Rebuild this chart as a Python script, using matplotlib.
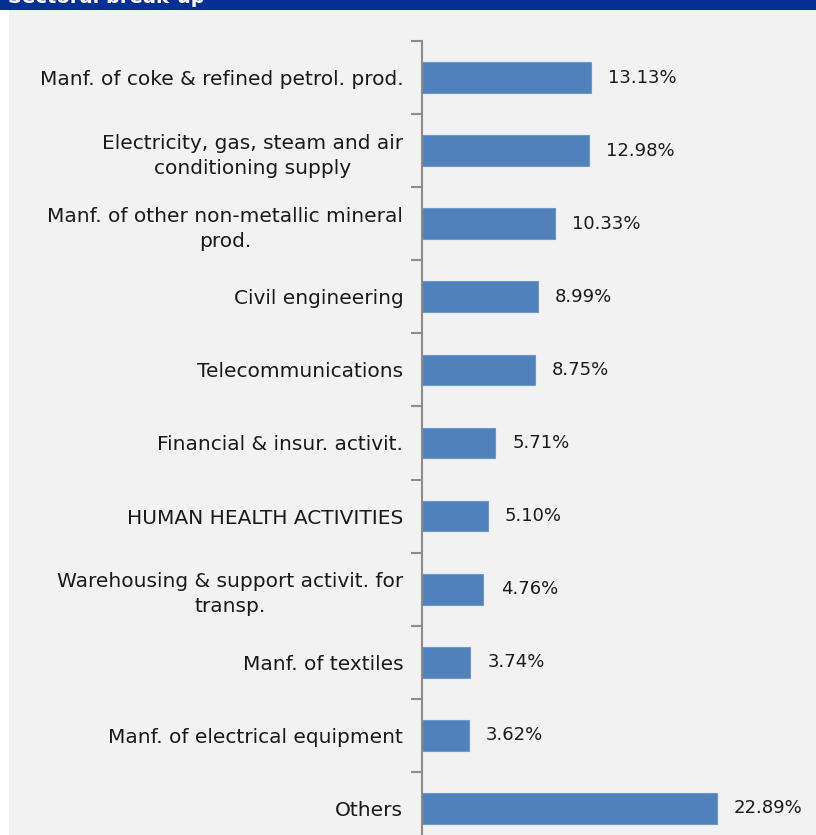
import matplotlib
matplotlib.use("Agg")
import matplotlib.pyplot as plt
from matplotlib.patches import Rectangle

categories = [
    "Manf. of coke & refined petrol. prod.",
    "Electricity, gas, steam and air\nconditioning supply",
    "Manf. of other non-metallic mineral\nprod.",
    "Civil engineering",
    "Telecommunications",
    "Financial & insur. activit.",
    "HUMAN HEALTH ACTIVITIES",
    "Warehousing & support activit. for\ntransp.",
    "Manf. of textiles",
    "Manf. of electrical equipment",
    "Others",
]
shares = [13.13, 12.98, 10.33, 8.99, 8.75, 5.71, 5.10, 4.76, 3.74, 3.62, 22.89]
labels = ["%.2f%%" % v for v in shares]

W, H = 816, 835
fig = plt.figure(figsize=(W / 100, H / 100), dpi=100)
fig.patch.set_facecolor("white")

# grey panel and blue header strip (behind the axes)
fig.patches.append(Rectangle((9 / W, 0), 1, 1 - 10 / H, transform=fig.transFigure,
                             facecolor="#f2f2f2", edgecolor="none", zorder=-2))
fig.patches.append(Rectangle((0, 1 - 10 / H), 1, 10 / H, transform=fig.transFigure,
                             facecolor="#042f94", edgecolor="none", zorder=-2))
fig.text(8 / W, 1 - 3 / H, "Sectoral break-up", color="white", fontsize=14,
         fontweight="bold", va="baseline", ha="left")

ax = fig.add_axes([422 / W, -10 / H, (W - 422) / W, 804 / H])
ax.set_facecolor("none")

y = list(range(len(categories)))
ax.barh(y, shares, height=0.42, color="#4f81bd", edgecolor="#6d98cc", linewidth=0.8)
for yi, v, t in zip(y, shares, labels):
    ax.text(v + 1.35, yi, t, va="center", ha="left", fontsize=13, color="#1a1a1a")

ax.set_xlim(0, (W - 422) / 12.87)
ax.set_ylim(len(categories) - 0.5, -0.5)

ax.set_yticks(y)
ax.set_yticklabels(categories, fontsize=14.5, color="#1a1a1a", linespacing=1.4)
for lab in ax.get_yticklabels():
    lab.set_multialignment("center")
ax.tick_params(axis="y", which="major", length=0, pad=13.5)
ax.set_yticks([i - 0.5 for i in range(len(categories) + 1)], minor=True)
ax.tick_params(axis="y", which="minor", length=8, width=1.5, color="#8c8c8c")
ax.set_xticks([])

for s in ["top", "right", "bottom"]:
    ax.spines[s].set_visible(False)
ax.spines["left"].set_color("#8c8c8c")
ax.spines["left"].set_linewidth(1.5)

fig.savefig("out.png", dpi=100)
